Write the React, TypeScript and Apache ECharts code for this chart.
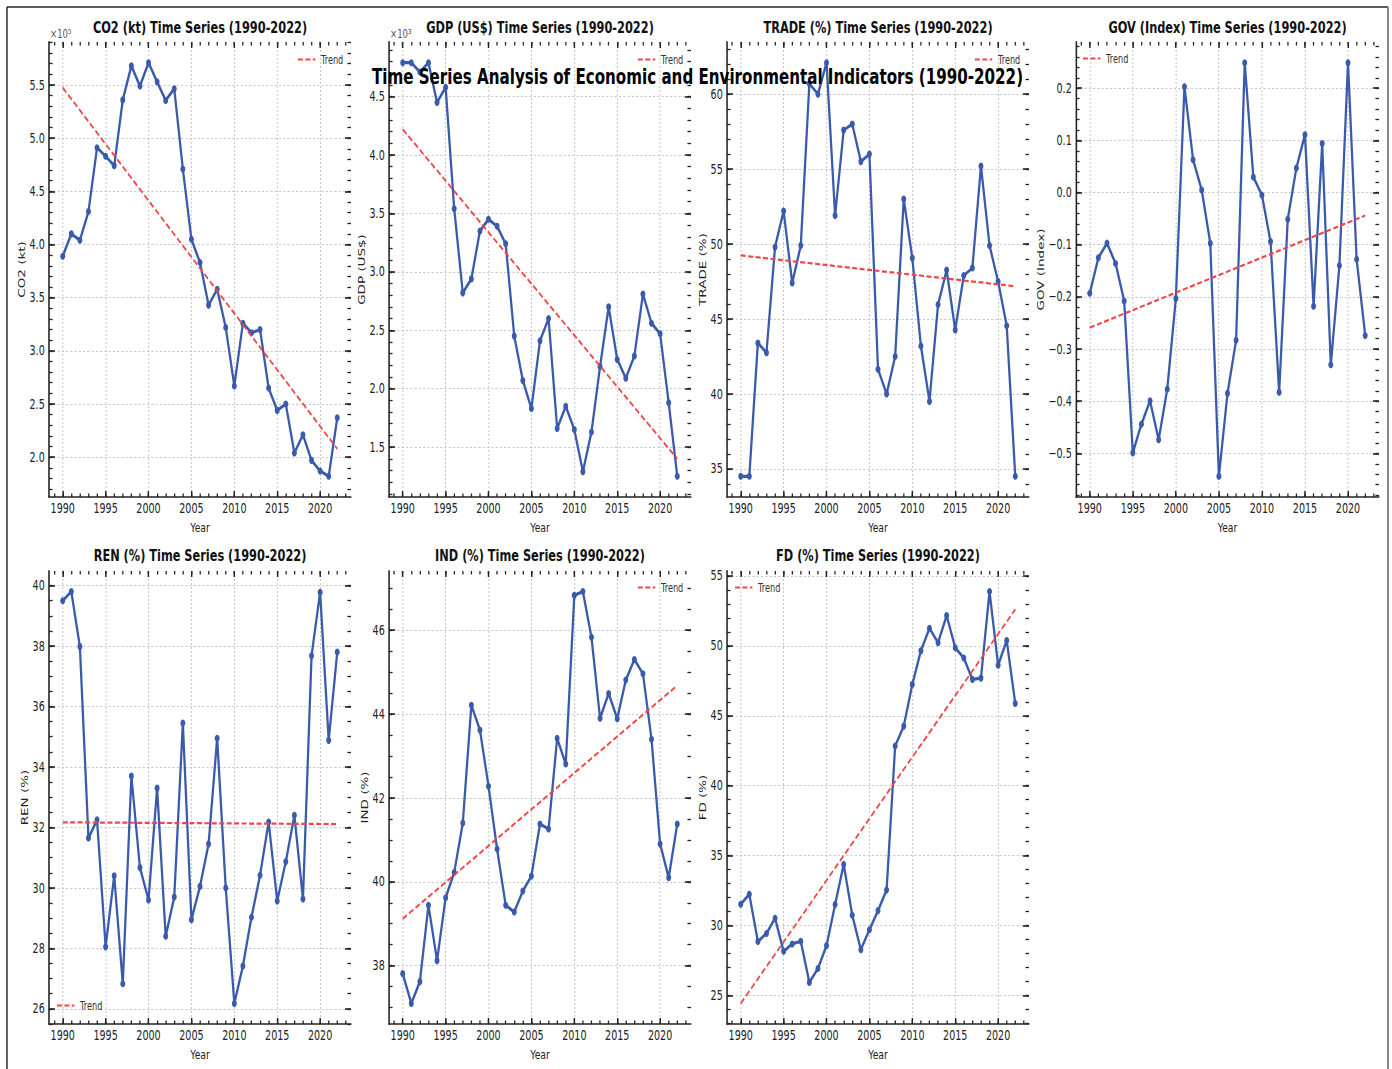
import React, { useEffect, useRef } from 'react';
import * as echarts from 'echarts';

// ---------------- data ----------------
const years = [1990, 1991, 1992, 1993, 1994, 1995, 1996, 1997, 1998, 1999, 2000, 2001, 2002, 2003, 2004, 2005, 2006, 2007, 2008, 2009, 2010, 2011, 2012, 2013, 2014, 2015, 2016, 2017, 2018, 2019, 2020, 2021, 2022];
const trendYears = [1990, 2022];

const co2Kt = [389000, 410000, 404000, 431000, 491000, 483000, 474000, 536000, 568000, 549000, 571000, 553000, 535500, 546500, 471000, 405000, 383000, 343000, 358000, 322000, 267000, 326000, 317000, 320000, 265000, 244000, 250000, 204000, 221000, 197000, 187000, 182000, 237000];
const co2Trend = [547500, 207800];

const gdpUsd = [4790, 4790, 4710, 4790, 4450, 4580, 3540, 2820, 2940, 3350, 3450, 3390, 3240, 2450, 2070, 1830, 2410, 2600, 1660, 1850, 1650, 1290, 1630, 2190, 2700, 2250, 2090, 2280, 2810, 2560, 2470, 1880, 1250];
const gdpTrend = [4220, 1400];

const tradePct = [34.5, 34.5, 43.4, 42.75, 49.8, 52.2, 47.4, 49.9, 60.7, 60.0, 62.1, 51.9, 57.6, 58.0, 55.5, 56.0, 41.65, 40.0, 42.5, 53.0, 49.06, 43.2, 39.5, 45.96, 48.26, 44.27, 47.9, 48.4, 55.2, 49.9, 47.5, 44.55, 34.5];
const tradeTrend = [49.24, 47.18];

const govIndex = [-0.193, -0.125, -0.097, -0.136, -0.208, -0.499, -0.444, -0.399, -0.474, -0.377, -0.203, 0.203, 0.063, 0.005, -0.097, -0.544, -0.385, -0.283, 0.249, 0.03, -0.005, -0.094, -0.383, -0.051, 0.047, 0.111, -0.218, 0.094, -0.33, -0.14, 0.249, -0.128, -0.274];
const govTrend = [-0.259, -0.044];

const renPct = [39.5, 39.8, 37.98, 31.65, 32.25, 28.05, 30.4, 26.83, 33.7, 30.67, 29.6, 33.3, 28.4, 29.7, 35.45, 28.95, 30.05, 31.45, 34.95, 30.0, 26.18, 27.42, 29.03, 30.42, 32.18, 29.57, 30.87, 32.4, 29.63, 37.68, 39.78, 34.88, 37.8];
const renTrend = [32.17, 32.11];

const indPct = [37.81, 37.1, 37.62, 39.44, 38.12, 39.62, 40.22, 41.4, 44.21, 43.62, 42.28, 40.78, 39.44, 39.28, 39.78, 40.14, 41.38, 41.26, 43.42, 42.81, 46.83, 46.92, 45.83, 43.9, 44.49, 43.89, 44.81, 45.3, 44.96, 43.4, 40.9, 40.1, 41.38];
const indTrend = [39.12, 44.68];

const fdPct = [31.54, 32.24, 28.87, 29.45, 30.53, 28.17, 28.7, 28.89, 25.94, 26.95, 28.58, 31.51, 34.38, 30.75, 28.29, 29.71, 31.08, 32.55, 42.84, 44.26, 47.24, 49.64, 51.25, 50.22, 52.16, 49.86, 49.13, 47.6, 47.69, 53.87, 48.61, 50.38, 45.87];
const fdTrend = [24.45, 52.6];

const mainTitle = 'Time Series Analysis of Economic and Environmental Indicators (1990-2022)';

// ---------------- layout ----------------
const FIG_W = 1392;
const FIG_H = 1069;
const SQ = 0.71; // the reference figure is horizontally squashed
const CW = FIG_W / SQ;
const FONT = "'DejaVu Sans', 'Liberation Sans', sans-serif";
const BLUE = '#3a5bab';
const RED = '#f24646';
const DASH_ICON = 'path://M0,0h7v2h-7z M10.5,0h7v2h-7z M21,0h3.5v2h-3.5z';

const colLeft = [49, 389, 727, 1076];
const colWidth = [302, 302, 302, 303];
const rowTop = [42, 571];
const rowHeight = [455, 453];
const titleY = [27, 555];

const fmtFixed1 = (v: number) => (v < 0 ? '\u2212' + Math.abs(v).toFixed(1) : v.toFixed(1));

type Panel = {
  title: string;
  ylabel: string;
  values: number[];
  trend: number[];
  major: number;
  minor: number;
  fmt: (v: number) => string;
  mult?: string;
  col: number;
  row: number;
  legend: { corner: 'tr' | 'tl' | 'bl'; x: number; cy: number };
  yNameDist: number;
};

const panels: Panel[] = [
  { title: 'CO2 (kt) Time Series (1990-2022)', ylabel: 'CO2 (kt)', values: co2Kt, trend: co2Trend, major: 50000, minor: 10000, fmt: (v) => (v / 1e5).toFixed(1), mult: '\u00d710\u2075', col: 0, row: 0, legend: { corner: 'tr', x: 343, cy: 59 }, yNameDist: 26 },
  { title: 'GDP (US$) Time Series (1990-2022)', ylabel: 'GDP (US$)', values: gdpUsd, trend: gdpTrend, major: 500, minor: 100, fmt: (v) => (v / 1e3).toFixed(1), mult: '\u00d710\u00b3', col: 1, row: 0, legend: { corner: 'tr', x: 683, cy: 59 }, yNameDist: 24 },
  { title: 'TRADE (%) Time Series (1990-2022)', ylabel: 'TRADE (%)', values: tradePct, trend: tradeTrend, major: 5, minor: 1, fmt: (v) => String(Math.round(v)), col: 2, row: 0, legend: { corner: 'tr', x: 1020, cy: 59 }, yNameDist: 25 },
  { title: 'GOV (Index) Time Series (1990-2022)', ylabel: 'GOV (Index)', values: govIndex, trend: govTrend, major: 0.1, minor: 0.02, fmt: fmtFixed1, col: 3, row: 0, legend: { corner: 'tl', x: 1083, cy: 58 }, yNameDist: 35 },
  { title: 'REN (%) Time Series (1990-2022)', ylabel: 'REN (%)', values: renPct, trend: renTrend, major: 2, minor: 0.5, fmt: (v) => String(Math.round(v)), col: 0, row: 1, legend: { corner: 'bl', x: 57, cy: 1005 }, yNameDist: 24 },
  { title: 'IND (%) Time Series (1990-2022)', ylabel: 'IND (%)', values: indPct, trend: indTrend, major: 2, minor: 0.5, fmt: (v) => String(Math.round(v)), col: 1, row: 1, legend: { corner: 'tr', x: 683, cy: 587 }, yNameDist: 24 },
  { title: 'FD (%) Time Series (1990-2022)', ylabel: 'FD (%)', values: fdPct, trend: fdTrend, major: 5, minor: 1, fmt: (v) => String(Math.round(v)), col: 2, row: 1, legend: { corner: 'tl', x: 735, cy: 587 }, yNameDist: 25 },
];

function ticksBetween(lo: number, hi: number, step: number): number[] {
  const out: number[] = [];
  const k0 = Math.ceil(lo / step - 1e-9);
  const k1 = Math.floor(hi / step + 1e-9);
  for (let k = k0; k <= k1; k++) out.push(Number((k * step).toFixed(10)));
  return out;
}

function padded(vals: number[]): [number, number] {
  const lo = Math.min(...vals);
  const hi = Math.max(...vals);
  const m = (hi - lo) * 0.05;
  return [lo - m, hi + m];
}

function buildOption() {
  const xRange = padded([...years, ...trendYears]);
  const xMajor = ticksBetween(xRange[0], xRange[1], 5);
  const xMinor = ticksBetween(xRange[0], xRange[1], 1);

  const grids: any[] = [];
  const xAxes: any[] = [];
  const yAxes: any[] = [];
  const series: any[] = [];
  const legends: any[] = [];
  const graphics: any[] = [];

  const tickLine = { color: '#222', width: 1.6 };

  panels.forEach((p, g) => {
    const l = colLeft[p.col];
    const w = colWidth[p.col];
    const t = rowTop[p.row];
    const h = rowHeight[p.row];
    grids.push({ left: l / SQ, top: t, width: w / SQ, height: h, containLabel: false });

    const yRange = padded([...p.values, ...p.trend]);
    const yMajor = ticksBetween(yRange[0], yRange[1], p.major);
    const yMinor = ticksBetween(yRange[0], yRange[1], p.minor);

    const hidden = { axisLine: { show: false, onZero: false }, axisLabel: { show: false }, splitLine: { show: false } };

    // x axes: bottom major, bottom minor, top major, top minor
    xAxes.push({
      type: 'value', gridIndex: g, position: 'bottom', min: xRange[0], max: xRange[1],
      axisLine: { show: true, onZero: false, lineStyle: { color: '#222', width: 1.6 } },
      axisTick: { show: true, inside: true, length: 6, customValues: xMajor, lineStyle: { color: '#222', width: 2 } },
      axisLabel: { show: true, customValues: xMajor, margin: 4, fontSize: 13.5, color: '#222', fontFamily: FONT, formatter: (v: number) => String(v) },
      splitLine: { show: true, lineStyle: { color: '#bdbdbd', width: 1.2, type: [2, 2] } },
      name: 'Year', nameLocation: 'middle', nameGap: 24,
      nameTextStyle: { fontSize: 13, color: '#222', fontFamily: FONT },
    });
    xAxes.push({
      type: 'value', gridIndex: g, position: 'bottom', min: xRange[0], max: xRange[1], ...hidden,
      axisTick: { show: true, inside: true, length: 3.5, customValues: xMinor, lineStyle: { color: '#222', width: 1.8 } },
    });
    xAxes.push({
      type: 'value', gridIndex: g, position: 'top', min: xRange[0], max: xRange[1], ...hidden,
      axisTick: { show: true, inside: true, length: 6, customValues: xMajor, lineStyle: { color: '#222', width: 2 } },
    });
    xAxes.push({
      type: 'value', gridIndex: g, position: 'top', min: xRange[0], max: xRange[1], ...hidden,
      axisTick: { show: true, inside: true, length: 3.5, customValues: xMinor, lineStyle: { color: '#222', width: 1.8 } },
    });

    // y axes: left major, left minor, right major, right minor
    yAxes.push({
      type: 'value', gridIndex: g, position: 'left', min: yRange[0], max: yRange[1],
      axisLine: { show: true, onZero: false, lineStyle: { color: '#222', width: 2.2 } },
      axisTick: { show: true, inside: true, length: 8.5, customValues: yMajor, lineStyle: tickLine },
      axisLabel: { show: true, customValues: yMajor, margin: 6, fontSize: 13.5, color: '#222', fontFamily: FONT, formatter: p.fmt },
      splitLine: { show: true, lineStyle: { color: '#bdbdbd', width: 1, type: [3, 3] } },
      name: p.ylabel, nameLocation: 'middle', nameRotate: 90, nameGap: (p.yNameDist - 5.3) / SQ,
      nameTextStyle: { fontSize: 13.5, color: '#222', fontFamily: FONT },
    });
    yAxes.push({
      type: 'value', gridIndex: g, position: 'left', min: yRange[0], max: yRange[1], ...hidden,
      axisTick: { show: true, inside: true, length: 5, customValues: yMinor, lineStyle: { color: '#222', width: 1.3 } },
    });
    yAxes.push({
      type: 'value', gridIndex: g, position: 'right', min: yRange[0], max: yRange[1], ...hidden,
      axisTick: { show: true, inside: true, length: 8.5, customValues: yMajor, lineStyle: tickLine },
    });
    yAxes.push({
      type: 'value', gridIndex: g, position: 'right', min: yRange[0], max: yRange[1], ...hidden,
      axisTick: { show: true, inside: true, length: 5, customValues: yMinor, lineStyle: { color: '#222', width: 1.3 } },
    });

    series.push({
      type: 'line', name: p.ylabel, xAxisIndex: 4 * g, yAxisIndex: 4 * g,
      data: years.map((yr, i) => [yr, p.values[i]]),
      symbol: 'circle', symbolSize: 7,
      lineStyle: { color: BLUE, width: 3.2 }, itemStyle: { color: BLUE }, color: BLUE,
      z: 3,
    });
    series.push({
      type: 'line', name: 'Trend', xAxisIndex: 4 * g, yAxisIndex: 4 * g,
      data: trendYears.map((yr, i) => [yr, p.trend[i]]),
      symbol: 'none',
      lineStyle: { color: RED, width: 2.2, type: [7, 3.5] }, itemStyle: { color: RED }, color: RED,
      z: 4,
    });

    const lg: any = {
      data: [{ name: 'Trend', icon: DASH_ICON }],
      orient: 'horizontal', itemWidth: 24.5, itemHeight: 2.2, itemGap: 0, padding: 0,
      selectedMode: false,
      textStyle: { fontSize: 11.5, color: '#333', fontFamily: FONT, padding: [0, 0, 0, 3] },
      top: p.legend.cy - 5.5,
    };
    if (p.legend.corner === 'tr') lg.right = CW - p.legend.x / SQ;
    else lg.left = p.legend.x / SQ;
    legends.push(lg);

    graphics.push({
      type: 'text', x: (l + w / 2) / SQ, y: titleY[p.row],
      style: { text: p.title, fontSize: 16, fontWeight: 'bold', fontFamily: FONT, fill: '#111', align: 'center', verticalAlign: 'middle', textAlign: 'center', textVerticalAlign: 'middle' },
    });
    if (p.mult) {
      graphics.push({
        type: 'text', x: (l + 1) / SQ, y: 33,
        style: { text: p.mult, fontSize: 12, fontFamily: FONT, fill: '#555', align: 'left', verticalAlign: 'middle', textAlign: 'left', textVerticalAlign: 'middle' },
      });
    }
  });

  graphics.push({
    type: 'text', x: 697.5 / SQ, y: 77, z: 100,
    style: { text: mainTitle, fontSize: 21.3, fontWeight: 'bold', fontFamily: FONT, fill: '#000', align: 'center', verticalAlign: 'middle', textAlign: 'center', textVerticalAlign: 'middle' },
  });
  // figure border (top, left, right)
  graphics.push({ type: 'line', shape: { x1: 7 / SQ, y1: 7, x2: 1388 / SQ, y2: 7 }, style: { stroke: '#222', lineWidth: 1.5 } });
  graphics.push({ type: 'line', shape: { x1: 7 / SQ, y1: 7, x2: 7 / SQ, y2: FIG_H }, style: { stroke: '#222', lineWidth: 2 } });
  graphics.push({ type: 'line', shape: { x1: 1388 / SQ, y1: 7, x2: 1388 / SQ, y2: FIG_H }, style: { stroke: '#777', lineWidth: 2.5 } });

  return {
    animation: false,
    backgroundColor: '#fff',
    grid: grids,
    xAxis: xAxes,
    yAxis: yAxes,
    series,
    legend: legends,
    graphic: { elements: graphics },
  };
}

export default function App() {
  const ref = useRef<HTMLDivElement>(null);
  useEffect(() => {
    if (!ref.current) return;
    const chart = echarts.init(ref.current, null, { renderer: 'svg' });
    chart.setOption(buildOption() as any);
    return () => chart.dispose();
  }, []);
  return (
    <div style={{ position: 'absolute', left: 0, top: 0, width: FIG_W, height: FIG_H, overflow: 'hidden', background: '#fff' }}>
      <div ref={ref} style={{ width: CW, height: FIG_H, transform: `scaleX(${SQ})`, transformOrigin: '0 0' }} />
    </div>
  );
}
